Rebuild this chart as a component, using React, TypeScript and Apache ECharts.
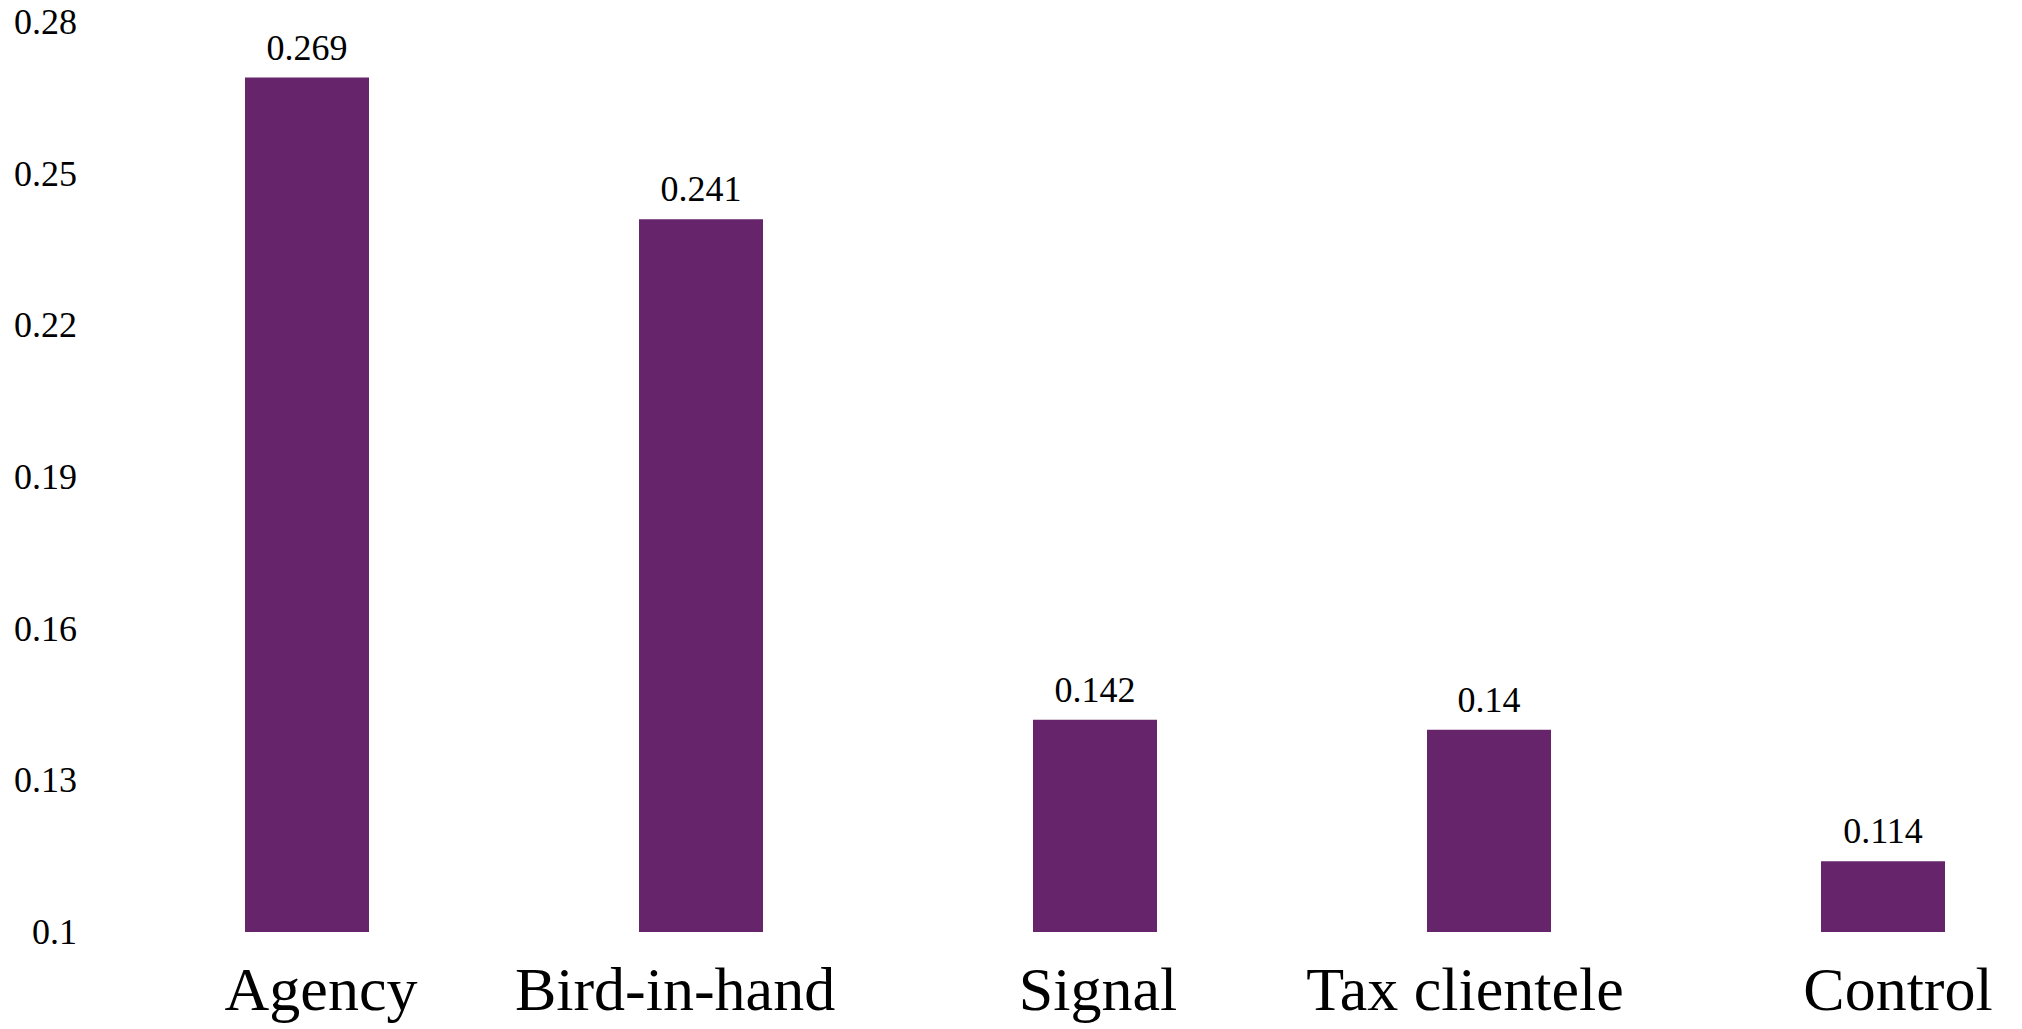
import React, { useEffect, useRef } from "react";
import * as echarts from "echarts";

const categories = ["Agency", "Bird-in-hand", "Signal", "Tax clientele", "Control"];
const values = [0.269, 0.241, 0.142, 0.14, 0.114];
const yTicks = [0.1, 0.13, 0.16, 0.19, 0.22, 0.25, 0.28];
// small horizontal nudges of the category labels as seen in the reference (px, + = right)
const labelShift = [14, -26, 3, -24, 15];

export default function App() {
  const ref = useRef<HTMLDivElement>(null);
  useEffect(() => {
    if (!ref.current) return;
    const chart = echarts.init(ref.current, undefined, { renderer: "svg" });
    const serif = "'Liberation Serif', 'DejaVu Serif', serif";
    chart.setOption({
      animation: false,
      backgroundColor: "#ffffff",
      grid: { left: 110, top: 22, bottom: 97, right: 0, containLabel: false },
      xAxis: {
        type: "category",
        data: categories.map((c, i) => ({
          value: c,
          textStyle: {
            padding: labelShift[i] >= 0 ? [0, 0, 0, 2 * labelShift[i]] : [0, -2 * labelShift[i], 0, 0],
          },
        })),
        axisLine: { show: false },
        axisTick: { show: false },
        splitLine: { show: false },
        axisLabel: {
          color: "#000",
          fontFamily: serif,
          fontSize: 62,
          margin: 26,
          interval: 0,
        },
      },
      yAxis: {
        type: "value",
        min: yTicks[0],
        max: yTicks[yTicks.length - 1],
        interval: 0.03,
        axisLine: { show: false },
        axisTick: { show: false },
        splitLine: { show: false },
        axisLabel: {
          color: "#000",
          fontFamily: serif,
          fontSize: 36,
          margin: 33,
          formatter: (v: number) => String(+v.toFixed(2)),
        },
      },
      series: [
        {
          type: "bar",
          data: values,
          barWidth: 124,
          itemStyle: { color: "#66246a" },
          label: {
            show: true,
            position: "top",
            distance: 12,
            color: "#000",
            fontFamily: serif,
            fontSize: 36,
            formatter: (p: any) => String(p.value),
          },
        },
      ],
    });
    return () => chart.dispose();
  }, []);
  return (
    <div
      style={{
        position: "absolute",
        left: 0,
        top: 0,
        width: 2022,
        height: 1029,
        overflow: "hidden",
        background: "#fff",
      }}
    >
      <div ref={ref} style={{ position: "absolute", left: 0, top: 0, width: 2080, height: 1029 }} />
    </div>
  );
}
